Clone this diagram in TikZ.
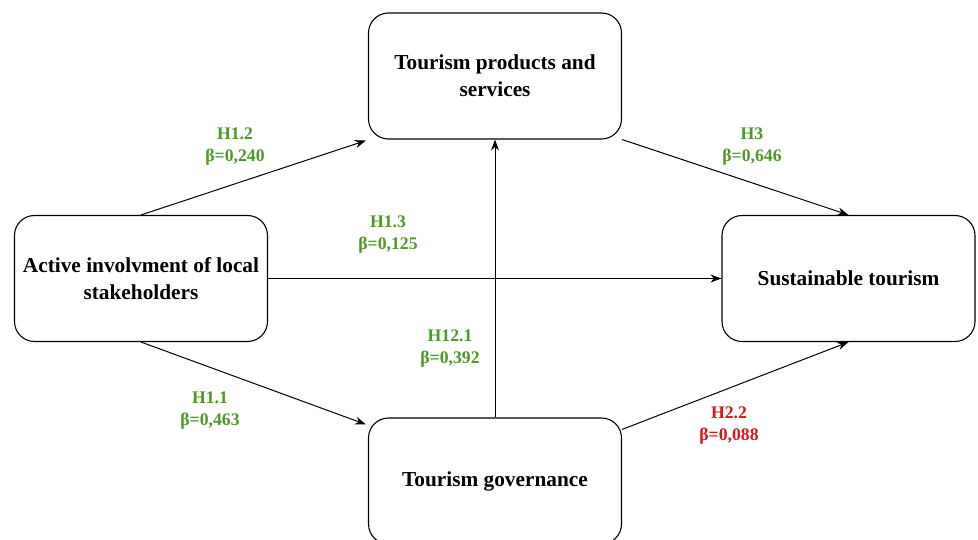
\documentclass[tikz,border=0pt]{standalone}
\usepackage{fontspec}
\setmainfont{Liberation Serif}
\usetikzlibrary{arrows.meta}
\definecolor{hgreen}{RGB}{78,152,40}
\definecolor{hred}{RGB}{218,22,28}
\tikzset{
  box/.style={draw=black, line width=1.1pt, rounded corners=20pt, minimum width=253pt, minimum height=126pt, inner sep=0pt, align=center, font=\fontsize{21.3}{27}\selectfont\bfseries, fill=white},
  conn/.style={draw=black, line width=1pt, -{Stealth[length=11pt,width=8pt]}},
  glabel/.style={align=center, text=hgreen, font=\fontsize{17.7}{22}\selectfont\bfseries, inner sep=0pt},
  rlabel/.style={glabel, text=hred}
}
\begin{document}
\begin{tikzpicture}[x=1pt,y=-1pt]
\useasboundingbox (0,0) rectangle (978,540);
\node[box] (A) at (141,278.5) {Active involvment of local\\stakeholders};
\node[box] (T) at (495,76) {Tourism products and\\services};
\node[box] (S) at (848.5,278.5) {Sustainable tourism};
\node[box] (G) at (495,481) {Tourism governance};

\draw[conn] (A.north) -- ([xshift=-2pt,yshift=-1pt]T.south west);
\draw[conn] (A.east) -- (S.west);
\draw[conn] (A.south) -- ([xshift=-2pt,yshift=-7pt]G.north west);
\draw[conn] (T.south east) -- (S.north);
\draw[conn] ([yshift=-12pt]G.north east) -- (S.south);
\draw[conn] (G.north) -- (T.south);

\node[glabel] (L12) at (235,147) {H1.2\\β=0,240};
\node[glabel] (L13) at (388,235) {H1.3\\β=0,125};
\node[glabel] (L3) at (752,147) {H3\\β=0,646};
\node[glabel] (L121) at (450,349) {H12.1\\β=0,392};
\node[glabel] (L11) at (210,411) {H1.1\\β=0,463};
\node[rlabel] (L22) at (729,426) {H2.2\\β=0,088};
\end{tikzpicture}
\end{document}
